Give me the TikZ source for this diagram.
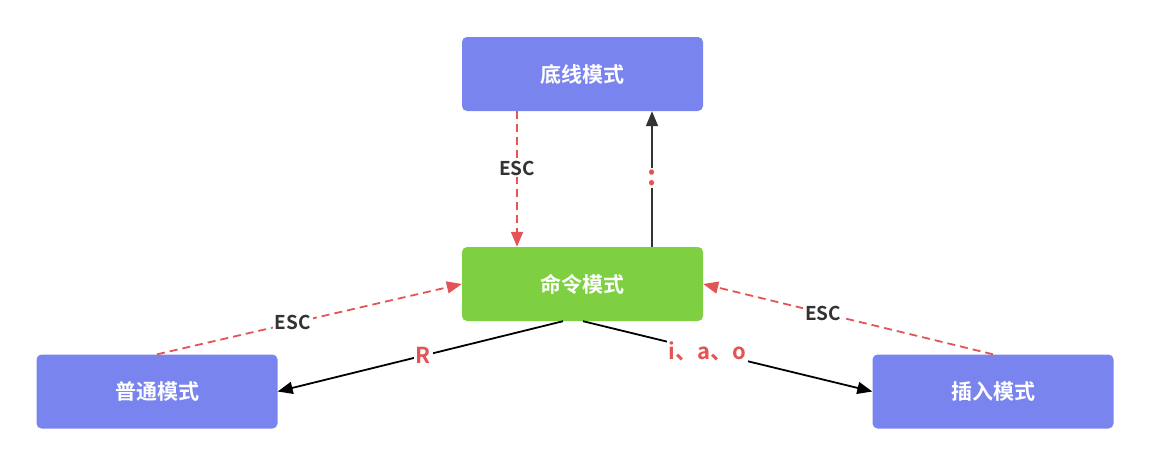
\documentclass[tikz,border=0pt]{standalone}
\usepackage{fontspec}
\setmainfont{Noto Sans CJK SC}[BoldFont={* Bold}]
\usetikzlibrary{arrows.meta,calc}
\definecolor{modeblue}{HTML}{7A84EE}
\definecolor{modegreen}{HTML}{7ED042}
\definecolor{linered}{HTML}{E45454}
\definecolor{labelgray}{HTML}{333333}
\begin{document}
\begin{tikzpicture}[x=1pt,y=-1pt,
  modebox/.style={rectangle,rounded corners=5pt,minimum width=241pt,minimum height=74pt,inner sep=0pt,text=white,font=\fontsize{21}{24}\selectfont\bfseries},
  esclink/.style={draw=linered,line width=1.8pt,dash pattern=on 8pt off 5pt,-{Triangle[length=15pt,width=12pt,fill=linered]}},
  keylink/.style={draw=black,line width=1.8pt,-{Triangle[length=15pt,width=12pt]}},
  esclabel/.style={fill=white,inner sep=2pt,text=labelgray,font=\fontsize{19}{21}\selectfont\bfseries},
  keylabel/.style={fill=white,inner sep=2pt,text=linered,font=\fontsize{22}{24}\selectfont\bfseries}]
\useasboundingbox (0,0) rectangle (1150,466);
\node[modebox,fill=modeblue] (bottomline) at (582.5,74) {底线模式};
\node[modebox,fill=modegreen] (command) at (582.5,284) {命令模式};
\node[modebox,fill=modeblue] (normal) at (157,391.5) {普通模式};
\node[modebox,fill=modeblue] (insert) at (993,391.5) {插入模式};
% vertical links
\draw[esclink] ($(bottomline.south)+(-65.5,0)$) -- node[esclabel,pos=0.42] {ESC} ($(command.north)+(-65.5,0)$);
\draw[keylink,draw=labelgray,-{Triangle[length=15pt,width=12pt,fill=labelgray]}] ($(command.north)+(69.5,0)$) -- node[keylabel,pos=0.51,font=\fontsize{28}{30}\selectfont\bfseries] {:} ($(bottomline.south)+(69.5,0)$);
% left
\draw[esclink] (normal.north) -- node[esclabel,pos=0.446] {ESC} (command.west);
\draw[keylink] ($(command.south)+(-19.5,0)$) -- node[keylabel,pos=0.49] {R} (normal.east);
% right
\draw[esclink] (insert.north) -- node[esclabel,pos=0.586] {ESC} (command.east);
\draw[keylink] ($(command.south)+(0.5,0)$) -- node[keylabel,pos=0.43] {i、a、o} (insert.west);
\end{tikzpicture}
\end{document}
